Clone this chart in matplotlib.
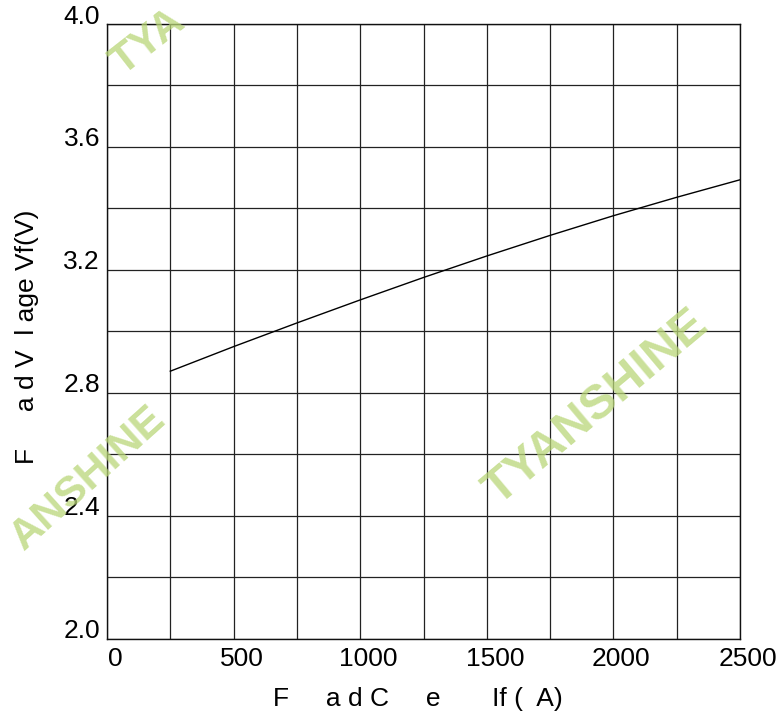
import matplotlib
matplotlib.use("Agg")
import matplotlib.pyplot as plt
from matplotlib.ticker import MultipleLocator, FixedLocator
from matplotlib.transforms import ScaledTranslation

# Data
current_ma = [250, 500, 750, 1000, 1250, 1500, 1750, 2000, 2250, 2500]
voltage_v = [2.87, 2.95, 3.027, 3.102, 3.175, 3.245, 3.312, 3.376, 3.436, 3.493]

x_ticks = [0, 500, 1000, 1500, 2000, 2500]
y_ticks = [2.0, 2.4, 2.8, 3.2, 3.6, 4.0]
x_tick_labels = ["0", "500", "1000", "1500", "2000", "2500"]
y_tick_labels = ["2.0", "2.4", "2.8", "3.2", "3.6", "4.0"]

x_label = "F" + " " * 5 + "a" + " " * 1 + "d C" + " " * 5 + "e" + " " * 7 + "If (" + " " * 2 + "A)"
y_label = "F" + " " * 5 + "a" + " " * 1 + "d V" + " " * 2 + "l" + " " * 1 + "age Vf(V)"

plt.rcParams['font.family'] = ['Liberation Sans', 'DejaVu Sans']
FS = 19

fig = plt.figure(figsize=(7.8, 7.18), dpi=100)
ax = fig.add_axes([107 / 780, 1 - 638.5 / 718, 633 / 780, 614.5 / 718])

ax.plot(current_ma, voltage_v, color='black', lw=1.0, zorder=3)

ax.set_xlim(0, 2500)
ax.set_ylim(2.0, 4.0)
ax.xaxis.set_major_locator(FixedLocator(x_ticks))
ax.yaxis.set_major_locator(FixedLocator(y_ticks))
ax.set_xticklabels(x_tick_labels)
ax.set_yticklabels(y_tick_labels)
ax.xaxis.set_minor_locator(MultipleLocator(250))
ax.yaxis.set_minor_locator(MultipleLocator(0.2))
ax.grid(which='both', color='#222222', lw=0.9)
ax.set_axisbelow(True)
ax.tick_params(which='both', length=0)
ax.tick_params(axis='x', labelsize=FS, pad=6)
ax.tick_params(axis='y', labelsize=FS, pad=5)
for sp in ax.spines.values():
    sp.set_color('#111111')
    sp.set_linewidth(1.0)

for lbl in ax.get_xticklabels():
    lbl.set_transform(lbl.get_transform() + ScaledTranslation(0.08, 0, fig.dpi_scale_trans))
for lbl in ax.get_yticklabels():
    lbl.set_transform(lbl.get_transform() + ScaledTranslation(0, 0.10, fig.dpi_scale_trans))

fig.text(418 / 780, 1 - 699 / 718, x_label, fontsize=FS, ha='center', va='center')
fig.text(27 / 780, 1 - 337 / 718, y_label, fontsize=FS, ha='center', va='center', rotation=90)

# watermarks (only the parts that show inside the picture)
wm = dict(color='#b9d678', alpha=0.75, fontweight='bold', ha='center', va='center')
fig.text(596 / 780, 1 - 408 / 718, "TYANSHINE", fontsize=35, rotation=40, **wm)
fig.text(88 / 780, 1 - 478 / 718, "ANSHINE", fontsize=31, rotation=42, **wm)
fig.text(148 / 780, 1 - 42 / 718, "TYA", fontsize=31, rotation=38, **wm)

fig.savefig("out.png", dpi=100)
